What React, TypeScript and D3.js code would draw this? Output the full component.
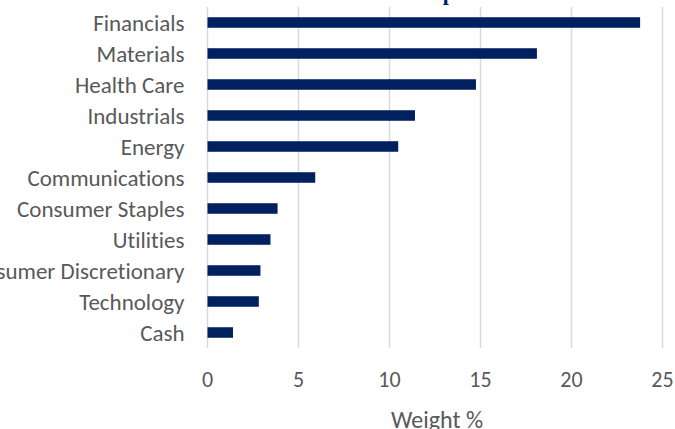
import { useEffect, useRef } from 'react';
import * as d3 from 'd3';

const SECTORS = [
  'Financials',
  'Materials',
  'Health Care',
  'Industrials',
  'Energy',
  'Communications',
  'Consumer Staples',
  'Utilities',
  'Consumer Discretionary',
  'Technology',
  'Cash',
];
const WEIGHTS = [23.77, 18.1, 14.75, 11.4, 10.48, 5.92, 3.85, 3.46, 2.91, 2.82, 1.4];
const X_TICKS = [0, 5, 10, 15, 20, 25];
const TITLE = 'Sector Exposure';
const X_LABEL = 'Weight %';

const W = 675;
const H = 429;
const PLOT = { left: 207.5, right: 662.5, top: 7, bottom: 348 };
const FONT = 'Calibri, Carlito, Lato, sans-serif';
const TEXT_COLOR = '#595959';
const BAR_COLOR = '#002060';

export default function App() {
  const svgRef = useRef<SVGSVGElement | null>(null);

  useEffect(() => {
    const svgEl = svgRef.current;
    if (!svgEl) return;
    const svg = d3.select(svgEl);
    svg.selectAll('*').remove();

    const x = d3.scaleLinear().domain([0, 25]).range([PLOT.left, PLOT.right]);
    const y = d3
      .scaleBand<string>()
      .domain(SECTORS)
      .range([PLOT.top, PLOT.bottom])
      .paddingInner(0.66)
      .paddingOuter(0.33);

    // title, mostly clipped off the top edge
    svg
      .append('text')
      .attr('x', x(12.5) - 6)
      .attr('y', -0.5)
      .attr('text-anchor', 'middle')
      .attr('font-family', 'Liberation Serif, serif')
      .attr('font-weight', 'bold')
      .attr('font-size', 22)
      .attr('fill', '#002060')
      .text(TITLE);

    // vertical gridlines
    svg
      .append('g')
      .selectAll('line')
      .data(X_TICKS)
      .join('line')
      .attr('x1', (d) => x(d))
      .attr('x2', (d) => x(d))
      .attr('y1', PLOT.top)
      .attr('y2', PLOT.bottom)
      .attr('stroke', '#d9d9d9')
      .attr('stroke-width', 1.5);

    // bars
    svg
      .append('g')
      .selectAll('rect')
      .data(SECTORS)
      .join('rect')
      .attr('x', x(0))
      .attr('y', (d) => y(d) ?? 0)
      .attr('width', (_, i) => x(WEIGHTS[i]) - x(0))
      .attr('height', y.bandwidth())
      .attr('fill', BAR_COLOR);

    // category labels (no "ti" ligature, to keep the wider Calibri-like run)
    svg
      .append('g')
      .selectAll('text')
      .data(SECTORS)
      .join('text')
      .attr('x', PLOT.left - 23)
      .attr('y', (d) => (y(d) ?? 0) + y.bandwidth() / 2)
      .attr('dy', '0.35em')
      .attr('text-anchor', 'end')
      .attr('font-family', FONT)
      .attr('font-size', 23)
      .attr('fill', TEXT_COLOR)
      .style('font-variant-ligatures', 'none')
      .style('font-feature-settings', '"liga" 0, "clig" 0')
      .text((d) => d);

    // x tick labels
    svg
      .append('g')
      .selectAll('text')
      .data(X_TICKS)
      .join('text')
      .attr('x', (d) => x(d))
      .attr('y', 387)
      .attr('text-anchor', 'middle')
      .attr('font-family', FONT)
      .attr('font-size', 22)
      .attr('fill', TEXT_COLOR)
      .text((d) => String(d));

    svg
      .append('text')
      .attr('x', x(12.5) + 2)
      .attr('y', 428)
      .attr('text-anchor', 'middle')
      .attr('font-family', FONT)
      .attr('font-size', 24)
      .attr('fill', TEXT_COLOR)
      .text(X_LABEL);
  }, []);

  return (
    <svg
      ref={svgRef}
      width={W}
      height={H}
      viewBox={`0 0 ${W} ${H}`}
      style={{ position: 'absolute', left: 0, top: 0, display: 'block', background: '#ffffff' }}
    />
  );
}
